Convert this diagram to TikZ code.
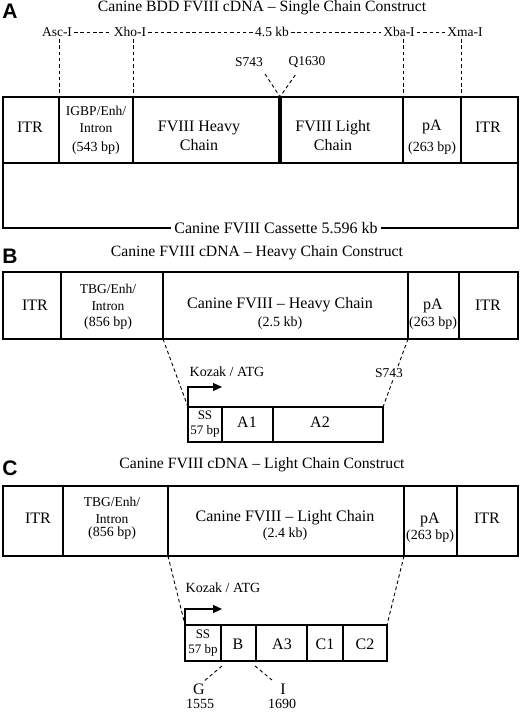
\documentclass[tikz,border=0pt]{standalone}
\usepackage{fontspec}
\setmainfont{Liberation Serif}
\setsansfont{Liberation Sans}
\usetikzlibrary{arrows.meta}

\tikzset{
    ttl/.style={font=\fontsize{15.7}{18}\selectfont,inner sep=0pt,align=center},
    big/.style={font=\fontsize{16}{19}\selectfont,inner sep=0pt,align=center},
    mid/.style={font=\fontsize{13.5}{17}\selectfont,inner sep=0pt,align=center},
    sml/.style={font=\fontsize{14}{17}\selectfont,inner sep=0pt,align=center},
    site/.style={font=\fontsize{13.5}{16}\selectfont,inner sep=0pt,align=center},
    tny/.style={font=\fontsize{13}{14.5}\selectfont,inner sep=0pt,align=center},
    panel/.style={font=\sffamily\bfseries\fontsize{21}{21}\selectfont,inner sep=0pt},
    cut/.style={dash pattern=on 3.5pt off 2.8pt,line width=0.9pt},
    frame/.style={line width=1.1pt},
    kozak/.style={line width=1.1pt,-{Triangle[length=9pt,width=8pt]}}
}

\begin{document}
\begin{tikzpicture}[x=1pt,y=-1pt]
\useasboundingbox (0,0) rectangle (520,713);
\def\topA{97};%Caja A
\def\midA{163};
\def\botA{228};

%Panel A
\node[panel] (labA) at (10,11) {A};
\node[ttl] (titA) at (262,8) {Canine BDD FVIII cDNA – Single Chain Construct};

%Sitios de restriccion
\foreach \s/\x [count=\i] in {Asc-I/57,Xho-I/130,4.5 kb/272,Xba-I/399,Xma-I/465}{
    \node[site] (site\i) at (\x,32) {\s};
}
\foreach \i [evaluate={\j=int(\i+1)}] in {1,...,4}{
    \draw[cut,shorten <=2pt,shorten >=2pt] (site\i.east) -- (site\j.west);
}
\foreach \x in {59,133,403,461}{
    \draw[cut] (\x,39) -- (\x,\topA);
}

%Caja
\draw[frame] (3,\topA) rectangle (518,\midA);
\foreach \x in {59,133,403,461}{
    \draw[frame] (\x,\topA) -- (\x,\midA);
}
\node[fill=black,draw=black,line width=0.5pt,inner sep=0pt,minimum width=3.4pt,minimum height=66pt] (bar) at (280,130) {};
\node[big] (cass) at (276,\botA) {Canine FVIII Cassette 5.596 kb};
\draw[frame] (cass.west) ++(-3,0) -- (3,\botA) -- (3,\midA);
\draw[frame] (cass.east) ++(3,0) -- (518,\botA) -- (518,\midA);

\node[site] (s743a) at (249,62) {S743};
\node[site] (q1630) at (307,62) {Q1630};
\draw[cut] (265,74) -- (bar.north) -- (296,74);

\node[big] (itrA1) at (30,127) {ITR};
\node[mid] (promA) at (96,119) {IGBP/Enh/\\Intron};
\node[sml] (promAbp) at (96,148) {(543 bp)};
\node[big] (heavyA) at (199,136) {FVIII Heavy\\Chain};
\node[big] (lightA) at (333,136) {FVIII Light\\Chain};
\node[big] (pAA) at (432,127) {pA};
\node[sml] (pAAbp) at (432,148) {(263 bp)};
\node[big] (itrA2) at (488,127) {ITR};

%Panel B
\node[panel] (labB) at (10,256) {B};
\node[ttl] (titB) at (257,253) {Canine FVIII cDNA – Heavy Chain Construct};
\draw[frame] (3,272) rectangle (518,339);
\foreach \x in {61,163,408,459}{
    \draw[frame] (\x,272) -- (\x,339);
}
\node[big] (itrB1) at (35,305) {ITR};
\node[mid] (promB) at (108,297) {TBG/Enh/\\Intron};
\node[sml] (promBbp) at (108,323) {(856 bp)};
\node[big] (heavyB) at (280,305) {Canine FVIII – Heavy Chain};
\node[sml] (heavyBkb) at (280,323) {(2.5 kb)};
\node[big] (pAB) at (433,306) {pA};
\node[sml] (pABbp) at (433,323) {(263 bp)};
\node[big] (itrB2) at (488,305) {ITR};

%Detalle B
\draw[frame] (188,407) rectangle (383,442);
\foreach \x in {222,273}{
    \draw[frame] (\x,407) -- (\x,442);
}
\draw[cut] (163,339) -- (188,407);
\draw[cut] (408,339) -- (383,407);
\node[tny] (ssB) at (205,424) {SS\\57 bp};
\node[big] (a1B) at (247,422) {A1};
\node[big] (a2B) at (320,422) {A2};
\draw[kozak] (188,407) -- (188,387) -- (222,387);
\node[sml] (kozB) at (227,372) {Kozak / ATG};
\node[site,fill=white,inner sep=1.5pt] (s743b) at (389,373) {S743};

%Panel C
\node[panel] (labC) at (10,468) {C};
\node[ttl] (titC) at (262,465) {Canine FVIII cDNA – Light Chain Construct};
\draw[frame] (3,486) rectangle (518,556);
\foreach \x in {63,168,404,457}{
    \draw[frame] (\x,486) -- (\x,556);
}
\node[big] (itrC1) at (38,518) {ITR};
\node[mid] (promC) at (112,510) {TBG/Enh/\\Intron};
\node[sml] (promCbp) at (112,533) {(856 bp)};
\node[big] (lightC) at (285,518) {Canine FVIII – Light Chain};
\node[sml] (lightCkb) at (285,534) {(2.4 kb)};
\node[big] (pAC) at (430,520) {pA};
\node[sml] (pACbp) at (430,536) {(263 bp)};
\node[big] (itrC2) at (487,518) {ITR};

%Detalle C
\draw[frame] (185,625) rectangle (387,661);
\foreach \x in {221,256,307,343}{
    \draw[frame] (\x,625) -- (\x,661);
}
\draw[cut] (168,556) -- (185,625);
\draw[cut] (404,556) -- (387,625);
\node[tny] (ssC) at (203,643) {SS\\57 bp};
\foreach \s/\x in {B/238,A3/282,C1/325,C2/365}{
    \node[big] (dom\s) at (\x,644) {\s};
}
\draw[kozak] (185,625) -- (185,609) -- (222,609);
\node[sml] (kozC) at (223,588) {Kozak / ATG};

\node[big] (resG) at (199,689) {G};
\node[big] (resI) at (283,689) {I};
\node[sml] (numG) at (200,704) {1555};
\node[sml] (numI) at (282,704) {1690};
\draw[cut] (222,666) -- (203,682);
\draw[cut] (255,666) -- (272,680);
\end{tikzpicture}
\end{document}
